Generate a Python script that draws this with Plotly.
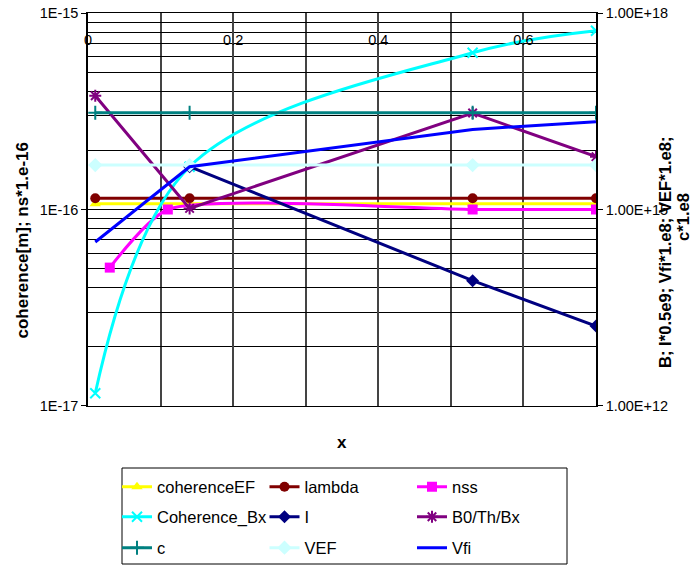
import plotly.graph_objects as go

# ---- data ----
x_main = [0.01, 0.14, 0.53, 0.70]
x_nss = [0.03, 0.11, 0.53, 0.70]
x_I = [0.14, 0.53, 0.70]

coherenceEF = [1.07e-16, 1.07e-16, 1.07e-16, 1.07e-16]
lambda_vals = [1.14e-16, 1.14e-16, 1.14e-16, 1.14e-16]
nss = [5.06e-17, 1.0e-16, 1.0e-16, 1.0e-16]
coherence_Bx = [1.16e-17, 1.65e-16, 6.28e-16, 8.13e-16]
I_vals = [4.5e15, 8.2e13, 1.66e13]
B0_Th_Bx = [5.46e16, 1.04e15, 2.97e16, 6.4e15]
c_vals = [3.0e16, 3.0e16, 3.0e16, 3.0e16]
VEF = [4.77e15, 4.77e15, 4.77e15, 4.77e15]
Vfi = [3.19e14, 4.5e15, 1.67e16, 2.19e16]

x_tickvals = [0, 0.2, 0.4, 0.6]
x_ticktext = ["0", "0.2", "0.4", "0.6"]
y1_tickvals = [1e-17, 1e-16, 1e-15]
y1_ticktext = ["1E-17", "1E-16", "1E-15"]
y2_tickvals = [1e12, 1e15, 1e18]
y2_ticktext = ["1.00E+12", "1.00E+15", "1.00E+18"]
y1_minor = [k * 10.0 ** n for n in (-17, -16) for k in range(2, 10)]

FONT = "Liberation Sans, Arial, sans-serif"

# plot area in window pixels: left 88, right 596, top 13, bottom 406
PL, PR, PT, PB = 88, 596, 13, 406
PW, PH = PR - PL, PB - PT
def px(xw):
    return (xw - PL) / PW
def py(yw):
    return (PB - yw) / PH

fig = go.Figure()

def add(name, x, y, color, symbol, axis, legend, shape="linear", smooth=1.0,
        msize=10, mline=False):
    marker = dict(color=color, size=msize, symbol=symbol)
    if mline:
        marker["line"] = dict(color=color, width=2)
    line = dict(color=color, width=3, shape=shape)
    if shape == "spline":
        line["smoothing"] = smooth
    fig.add_trace(go.Scatter(
        x=x, y=y, name=name, yaxis=axis, legend=legend,
        mode="lines+markers" if symbol else "lines",
        line=line, marker=marker,
    ))

add("coherenceEF", x_main, coherenceEF, "#FFFF00", "triangle-up", "y", "legend")
add("lambda", x_main, lambda_vals, "#800000", "circle", "y", "legend")
add("nss", x_nss, nss, "#FF00FF", "square", "y", "legend", shape="spline", smooth=0.6)
add("Coherence_Bx", x_main, coherence_Bx, "#00FFFF", "x-thin", "y", "legend2",
    shape="spline", smooth=1.0, mline=True)
add("I", x_I, I_vals, "#000080", "diamond", "y2", "legend2")
add("B0/Th/Bx", x_main, B0_Th_Bx, "#800080", "asterisk", "y2", "legend2", mline=True)
add("c", x_main, c_vals, "#008080", "cross-thin", "y2", "legend3", mline=True)
add("VEF", x_main, VEF, "#CCFFFF", "diamond", "y2", "legend3", msize=11)
add("Vfi", x_main, Vfi, "#0000FF", None, "y2", "legend3")

def legend_row(yw):
    return dict(
        orientation="h", x=px(117), y=py(yw), xanchor="left", yanchor="middle",
        borderwidth=0, bgcolor="rgba(0,0,0,0)",
        font=dict(family=FONT, size=16.5, color="black"),
        entrywidth=102.5, entrywidthmode="pixels", traceorder="normal",
    )

W, H = 694, 566

fig.update_layout(
    width=W, height=H,
    margin=dict(l=PL, r=W - PR, t=PT, b=H - PB, autoexpand=False),
    paper_bgcolor="white", plot_bgcolor="white",
    font=dict(family=FONT, size=14.5, color="black"),
    showlegend=True,
    legend=legend_row(487),
    legend2=legend_row(517),
    legend3=legend_row(548),
    xaxis=dict(
        range=[0, 0.7], side="top", ticklabelposition="inside",
        ticklabeloverflow="allow",
        tickmode="array", tickvals=x_tickvals, ticktext=x_ticktext,
        ticks="", ticklabelstandoff=22,
        showgrid=True, gridcolor="#444444", gridwidth=1.5,
        minor=dict(tickmode="linear", tick0=0, dtick=0.1, showgrid=True,
                   gridcolor="#444444", gridwidth=1.5, ticks=""),
        showline=True, linecolor="black", linewidth=1, mirror=True,
        zeroline=False, automargin=False,
        tickfont=dict(family=FONT, size=14.5, color="black"),
    ),
    yaxis=dict(
        type="log", range=[-17.0005, -14.9995],
        tickmode="array", tickvals=y1_tickvals, ticktext=y1_ticktext,
        ticks="outside", ticklen=5, tickcolor="black",
        ticklabeloverflow="allow",
        showgrid=True, gridcolor="black", gridwidth=1,
        minor=dict(tickmode="array", tickvals=y1_minor, showgrid=True,
                   gridcolor="black", gridwidth=1, ticks=""),
        showline=True, linecolor="black", linewidth=1.5, mirror=True,
        zeroline=False, automargin=False,
        tickfont=dict(family=FONT, size=14.5, color="black"),
    ),
    yaxis2=dict(
        type="log", range=[11.9995, 18.0005], overlaying="y", side="right",
        tickmode="array", tickvals=y2_tickvals, ticktext=y2_ticktext,
        ticks="outside", ticklen=5, tickcolor="black",
        ticklabeloverflow="allow",
        showgrid=False, showline=True, linecolor="black", linewidth=1.5,
        zeroline=False, automargin=False,
        tickfont=dict(family=FONT, size=14.5, color="black"),
    ),
    shapes=[
        dict(type="rect", xref="paper", yref="paper",
             x0=px(122), x1=px(567), y0=py(564), y1=py(468),
             line=dict(color="black", width=1), fillcolor="rgba(0,0,0,0)",
             layer="below"),
    ],
    annotations=[
        dict(text="<b>x</b>", xref="paper", yref="paper", x=0.5, y=py(443),
             xanchor="center", yanchor="middle", showarrow=False,
             font=dict(family=FONT, size=17, color="black")),
        dict(text="<b>coherence[m]; ns*1.e-16</b>", xref="paper", yref="paper",
             x=px(22), y=py(240.5), xanchor="center", yanchor="middle",
             textangle=-90, showarrow=False,
             font=dict(family=FONT, size=17, color="black")),
        dict(text="<b>B; I*0.5e9; Vfi*1.e8; VEF*1.e8;</b>", xref="paper", yref="paper",
             x=px(666), y=py(252), xanchor="center", yanchor="middle",
             textangle=-90, showarrow=False,
             font=dict(family=FONT, size=16.6, color="black")),
        dict(text="<b>c*1.e8</b>", xref="paper", yref="paper",
             x=px(683), y=py(217), xanchor="center", yanchor="middle",
             textangle=-90, showarrow=False,
             font=dict(family=FONT, size=16.6, color="black")),
    ],
)

# remove the browser's default 8px page margin so the figure fills the window
fig.write_html("out.html", config={"displayModeBar": False},
               post_script="document.body.style.margin='0';")
